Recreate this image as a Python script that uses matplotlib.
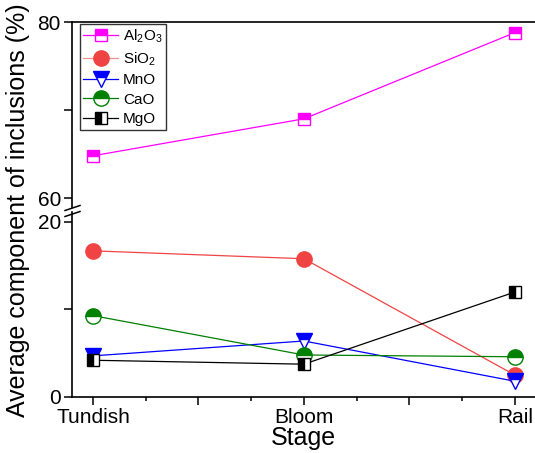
import matplotlib
matplotlib.use("Agg")
import matplotlib.pyplot as plt
from matplotlib.lines import Line2D
from matplotlib.ticker import FixedLocator

plt.rcParams['font.family'] = ['Liberation Sans', 'DejaVu Sans']
plt.rcParams['mathtext.fontset'] = 'custom'
plt.rcParams['mathtext.rm'] = 'Liberation Sans'

stages = ["Tundish", "Bloom", "Rail"]
al2o3 = [64.8, 69.0, 78.8]
sio2 = [16.7, 15.8, 2.5]
mno = [4.7, 6.4, 1.8]
cao = [9.3, 4.8, 4.6]
mgo = [4.2, 3.75, 12.0]

W, H = 535, 453
fig = plt.figure(figsize=(W / 100, H / 100), dpi=100)

def rect(left, top, right, bottom):
    return [left / W, 1 - bottom / H, (right - left) / W, (bottom - top) / H]

ax_top = fig.add_axes(rect(72, 22, 535, 207))
ax_bot = fig.add_axes(rect(72, 212, 535, 397))

x = list(range(len(stages)))
series = [
    ("Al$_2$O$_3$", al2o3, 's', '#FF00FF', 'top', 8.8),
    ("SiO$_2$", sio2, 'o', '#F04444', 'full', 11),
    ("MnO", mno, 'v', '#0000FF', 'top', 11),
    ("CaO", cao, 'o', '#008000', 'top', 11),
    ("MgO", mgo, 's', '#000000', 'left', 8.8),
]

handles = []
for name, vals, mk, col, fs, ms in series:
    kw = dict(marker=mk, color=col, lw=0.9, markersize=ms, fillstyle=fs,
              markerfacecolor=col, markerfacecoloralt='white',
              markeredgecolor=col, markeredgewidth=1.0, label=name)
    if name.startswith("Al"):
        ax_top.plot(x, vals, **kw)
    else:
        ax_bot.plot(x, vals, **kw)
    lkw = dict(kw)
    if name.startswith("Si"):
        lkw['color'] = '#F29090'
    handles.append(Line2D([], [], **lkw))

for ax in (ax_top, ax_bot):
    ax.set_xlim(-0.0995, 2.095)
    ax.spines['right'].set_visible(False)
    for sp in ax.spines.values():
        sp.set_linewidth(1.2)
    ax.tick_params(axis='y', direction='out', length=6, width=1.1, labelsize=15, pad=2)

ax_top.set_ylim(58.98, 80)
ax_top.spines['bottom'].set_visible(False)
ax_top.tick_params(axis='x', bottom=False, labelbottom=False)
ax_top.yaxis.set_major_locator(FixedLocator([60, 70, 80]))
ax_top.set_yticklabels(['60', '', '80'])

ax_bot.set_ylim(0, 21.14)
ax_bot.spines['top'].set_visible(False)
ax_bot.yaxis.set_major_locator(FixedLocator([0, 10, 20]))
ax_bot.set_yticklabels(['0', '', '20'])
ax_bot.xaxis.set_major_locator(FixedLocator([0, 0.5, 1, 1.5, 2]))
ax_bot.set_xticklabels([stages[0], '', stages[1], '', stages[2]])
ax_bot.xaxis.set_minor_locator(FixedLocator([0.25, 0.75, 1.25, 1.75]))
ax_bot.tick_params(axis='x', which='major', direction='out', length=6, width=1.1, labelsize=15, pad=2)
ax_bot.tick_params(axis='x', which='minor', direction='out', length=3, width=1.1)

# axis break marks
for y0 in (208.0, 214.0):
    fig.add_artist(Line2D([65 / W, 80 / W], [1 - (y0 + 2.5) / H, 1 - (y0 - 2.5) / H],
                          color='black', lw=1.1))

fig.text(72 / W + (535 - 72) / W / 2, 1 - 438 / H, "Stage", ha='center', va='center', fontsize=18)
fig.text(18 / W, 1 - 210 / H, "Average component of inclusions (%)", rotation=90,
         ha='center', va='center', fontsize=18)

leg = ax_top.legend(handles=handles, loc='upper left', bbox_to_anchor=(6 / 463, 1.0),
                    fontsize=11, frameon=True, fancybox=False, edgecolor='black',
                    handlelength=2.3, handletextpad=0.3, labelspacing=0.35,
                    borderpad=0.25, borderaxespad=0.1)
leg.get_frame().set_linewidth(1.0)

fig.savefig("out.png", dpi=100)
